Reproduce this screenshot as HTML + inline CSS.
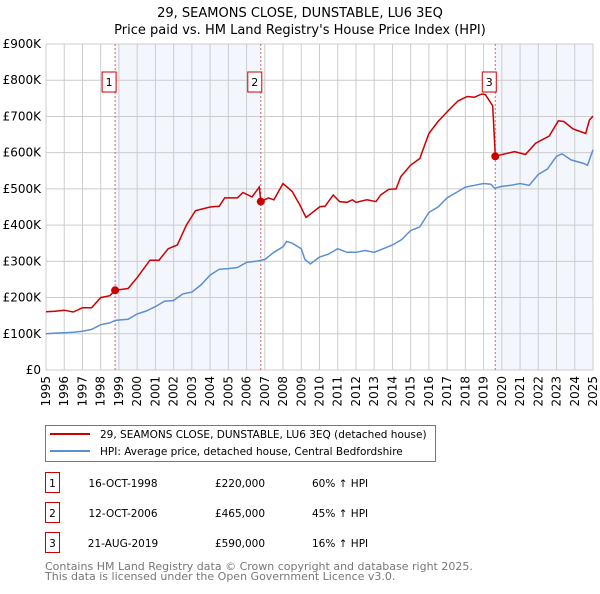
<!DOCTYPE html>
<html><head><meta charset="utf-8"><style>
body{margin:0;background:#fff;font-family:"DejaVu Sans","Liberation Sans",sans-serif;}
svg text{font-family:"DejaVu Sans","Liberation Sans",sans-serif;}
</style></head><body>
<svg id="chart" width="600" height="590" xmlns="http://www.w3.org/2000/svg"></svg>
<script>
const hpiYears=[1995,1995.5,1996,1996.5,1997,1997.5,1998,1998.5,1998.8,1999.5,2000,2000.5,2001,2001.5,2002,2002.5,2003,2003.5,2004,2004.5,2005,2005.5,2006,2006.5,2007,2007.5,2008,2008.2,2008.5,2009,2009.2,2009.5,2010,2010.5,2011,2011.5,2012,2012.5,2013,2013.5,2014,2014.5,2015,2015.5,2016,2016.5,2017,2017.5,2018,2018.5,2019,2019.4,2019.6,2020,2020.5,2021,2021.5,2022,2022.5,2023,2023.3,2023.8,2024.5,2024.7,2025];
const hpiValues=[100,102,103,104,107,112,125,130,137,140,155,163,175,190,192,210,215,235,262,278,280,283,297,300,305,325,340,355,350,335,305,293,312,320,335,325,325,330,325,335,345,360,385,395,435,450,475,490,505,510,515,513,502,507,510,515,510,540,555,590,597,580,570,565,608];
const priceYears=[1995,1995.5,1996,1996.5,1997,1997.5,1998,1998.5,1998.79,1999.5,2000,2000.7,2001.2,2001.7,2002.2,2002.7,2003.2,2004,2004.5,2004.8,2005.5,2005.8,2006.3,2006.7,2006.78,2007.2,2007.5,2008,2008.5,2008.93,2009.26,2010.03,2010.3,2010.75,2011.1,2011.5,2011.8,2012,2012.6,2013.1,2013.35,2013.8,2014.2,2014.46,2015,2015.5,2016,2016.5,2017.1,2017.6,2018.1,2018.5,2018.9,2019.1,2019.5,2019.64,2019.95,2020.7,2021.3,2021.85,2022.6,2023.1,2023.4,2023.9,2024.6,2024.8,2025];
const priceValues=[161,162,165,160,172,172,200,205,220,225,255,303,303,335,345,400,440,450,452,475,475,490,478,505,465,475,470,515,493,455,421,451,452,483,465,463,470,463,470,465,483,499,500,534,566,584,653,686,718,743,755,753,762,760,729,590,594,603,595,626,646,688,686,666,653,690,701];
const saleYears=[1998.79,2006.78,2019.64];
const salePrices=[220,465,590];
const saleLabels=["1","2","3"];
const yTicks=[0,100,200,300,400,500,600,700,800,900];
const yTickLabels=["£0","£100K","£200K","£300K","£400K","£500K","£600K","£700K","£800K","£900K"];
const xTicks=[1995,1996,1997,1998,1999,2000,2001,2002,2003,2004,2005,2006,2007,2008,2009,2010,2011,2012,2013,2014,2015,2016,2017,2018,2019,2020,2021,2022,2023,2024,2025];

const svg=document.getElementById('chart');
const NS='http://www.w3.org/2000/svg';
const X0=46,X1=593,Y0=370,Y1=44;
const xs=y=>X0+(y-1995)/30*(X1-X0);
const ys=v=>Y0-v/900*(Y0-Y1);
function mk(tag,attrs,parent){const e=document.createElementNS(NS,tag);for(const k in attrs)e.setAttribute(k,attrs[k]);(parent||svg).appendChild(e);return e;}

let t=mk('text',{x:300,y:17,'text-anchor':'middle','font-size':'13'});t.textContent="29, SEAMONS CLOSE, DUNSTABLE, LU6 3EQ";

t=mk('text',{x:300,y:34,'text-anchor':'middle','font-size':'13'});t.textContent="Price paid vs. HM Land Registry's House Price Index (HPI)";


let r=mk('rect',{x:xs(saleYears[0]),y:Y1,width:xs(saleYears[1])-xs(saleYears[0]),height:Y0-Y1,fill:'#f3f6fd'});

r=mk('rect',{x:xs(saleYears[2]),y:Y1,width:X1-xs(saleYears[2]),height:Y0-Y1,fill:'#f3f6fd'});


yTicks.forEach((v,i)=>{
 const l=mk('line',{x1:X0,x2:X1,y1:ys(v),y2:ys(v),stroke:'#cccccc','stroke-width':1});
 
 const tx=mk('text',{x:X0-5,y:ys(v)+4,'text-anchor':'end','font-size':'12'});tx.textContent=yTickLabels[i];
 
});
xTicks.forEach(y=>{
 const l=mk('line',{x1:xs(y),x2:xs(y),y1:Y1,y2:Y0,stroke:'#cccccc','stroke-width':1});
 
 const tx=mk('text',{x:0,y:0,'text-anchor':'end','font-size':'12',transform:`translate(${xs(y)+4},${Y0+6}) rotate(-90)`});tx.textContent=y;
 
});

saleYears.forEach((y,i)=>{
 const l=mk('line',{x1:xs(y),x2:xs(y),y1:Y1,y2:Y0,stroke:'#e06060','stroke-width':1,'stroke-dasharray':'2,2'});
 
 const g=mk('g',{});
 
 mk('rect',{x:xs(y)-13,y:72,width:14,height:20,fill:'#fff',stroke:'#cc0000','stroke-width':1},g);
 const tx=mk('text',{x:xs(y)-6,y:86,'text-anchor':'middle','font-size':'11'},g);tx.textContent=saleLabels[i];
});

let hp='';
hpiYears.forEach((yr,i)=>{hp+=(hp?'L':'M')+xs(yr).toFixed(1)+','+ys(hpiValues[i]).toFixed(1);});
let p=mk('path',{d:hp,fill:'none',stroke:'#5b8fd4','stroke-width':1.5});


let rp='';
priceYears.forEach((yr,i)=>{rp+=(rp?'L':'M')+xs(yr).toFixed(1)+','+ys(priceValues[i]).toFixed(1);});
p=mk('path',{d:rp,fill:'none',stroke:'#cc0000','stroke-width':1.5});

saleYears.forEach((y,i)=>{
 const c=mk('circle',{cx:xs(y),cy:ys(salePrices[i]),r:4,fill:'#cc0000'});
 
});

const lg=mk('g',{});

mk('rect',{x:45.5,y:425.5,width:390,height:36,fill:'#fff',stroke:'#777','stroke-width':1},lg);
mk('line',{x1:50,x2:90,y1:434,y2:434,stroke:'#cc0000','stroke-width':2},lg);
mk('line',{x1:50,x2:90,y1:451,y2:451,stroke:'#5b8fd4','stroke-width':2},lg);
t=mk('text',{x:100,y:438,'font-size':'10.5'},lg);t.textContent="29, SEAMONS CLOSE, DUNSTABLE, LU6 3EQ (detached house)";
t=mk('text',{x:100,y:455,'font-size':'10.5'},lg);t.textContent="HPI: Average price, detached house, Central Bedfordshire";

const rows=[["1","16-OCT-1998","£220,000","60% ↑ HPI"],["2","12-OCT-2006","£465,000","45% ↑ HPI"],["3","21-AUG-2019","£590,000","16% ↑ HPI"]];
rows.forEach((row,i)=>{
 const y=483+i*30;
 const g=mk('g',{});
 
 mk('rect',{x:45.5,y:y-10.5,width:14,height:20,fill:'#fff',stroke:'#cc0000','stroke-width':1},g);
 let tx=mk('text',{x:52.5,y:y+4,'text-anchor':'middle','font-size':'10.5'},g);tx.textContent=row[0];
 tx=mk('text',{x:123,y:y+4,'text-anchor':'middle','font-size':'10.5'},g);tx.textContent=row[1];
 tx=mk('text',{x:240,y:y+4,'text-anchor':'middle','font-size':'10.5'},g);tx.textContent=row[2];
 tx=mk('text',{x:312,y:y+4,'font-size':'10.5'},g);tx.textContent=row[3];
});
t=mk('text',{x:45,y:570,'font-size':'11',fill:'#777'});t.textContent="Contains HM Land Registry data © Crown copyright and database right 2025.";

t=mk('text',{x:45,y:580,'font-size':'11',fill:'#777'});t.textContent="This data is licensed under the Open Government Licence v3.0.";

</script>
</body></html>
